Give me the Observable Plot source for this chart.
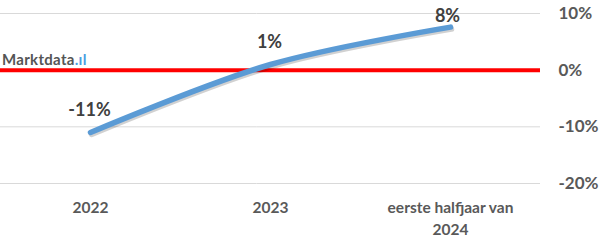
<!DOCTYPE html>
<html>
<head>
<meta charset="utf-8">
<script src="https://cdn.jsdelivr.net/npm/d3@7"></script>
<script src="https://cdn.jsdelivr.net/npm/@observablehq/plot@0.6"></script>
<style>
  html, body { margin: 0; padding: 0; background: #fff; }
  #wrap { position: relative; width: 605px; height: 243px; font-family: Lato, "Open Sans", sans-serif; }
  #logo { position: absolute; left: 2px; top: 50px; font-size: 15px; font-weight: bold; color: #555; letter-spacing: 0.3px; }
  #logo span { color: #4a9ee0; }
</style>
</head>
<body>
<div id="wrap"><div id="logo">Marktdata<span>.ıl</span></div></div>
<script>
const categories = ["2022", "2023", "eerste halfjaar van 2024"];
const categoryLabels = ["2022", "2023", "eerste halfjaar van\n2024"];
const values = [-11, 1, 7.6];
const yTicks = [10, 0, -10, -20];

const data = categories.map((c, i) => ({cat: c, value: values[i]}));
const labelOf = new Map(categories.map((c, i) => [c, categoryLabels[i]]));
const fmt = d => Math.round(d.value) + "%";
const labelStyle = {x: "cat", y: "value", text: fmt, fontSize: 18, fontWeight: "bold", fill: "#404040"};

const chart = Plot.plot({
  width: 605,
  height: 243,
  marginLeft: 0,
  marginRight: 65,
  marginTop: 13,
  marginBottom: 60,
  style: {fontFamily: "Lato, 'Open Sans', sans-serif", background: "#fff"},
  x: {type: "point", domain: categories, padding: 0.5, label: null},
  y: {domain: [-20, 10], label: null},
  marks: [
    Plot.gridY(yTicks, {stroke: "#d9d9d9", strokeOpacity: 1, strokeWidth: 1}),
    Plot.ruleY([0], {stroke: "#ff0000", strokeWidth: 4}),
    Plot.line(data, {x: "cat", y: "value", curve: "catmull-rom", stroke: "#000", strokeOpacity: 0.18, strokeWidth: 5.5, strokeLinecap: "round", dx: 1, dy: 2}),
    Plot.line(data, {x: "cat", y: "value", curve: "catmull-rom", stroke: "#5b9bd5", strokeWidth: 5.5, strokeLinecap: "round"}),
    Plot.text(data.slice(0, 2), {...labelStyle, dy: -22, dx: -1}),
    Plot.text(data.slice(2), {...labelStyle, dy: -11, dx: -3}),
    Plot.axisY(yTicks, {anchor: "right", tickSize: 0, tickPadding: 18, textAnchor: "start", tickFormat: d => d + "%", fontSize: 17, fontWeight: "bold", fill: "#595959", label: null}),
    Plot.axisX({tickSize: 0, tickPadding: 14, tickFormat: d => labelOf.get(d), fontSize: 15.5, fontWeight: "bold", fill: "#595959", lineHeight: 1.4, label: null})
  ]
});
document.getElementById("wrap").prepend(chart);
</script>
</body>
</html>
